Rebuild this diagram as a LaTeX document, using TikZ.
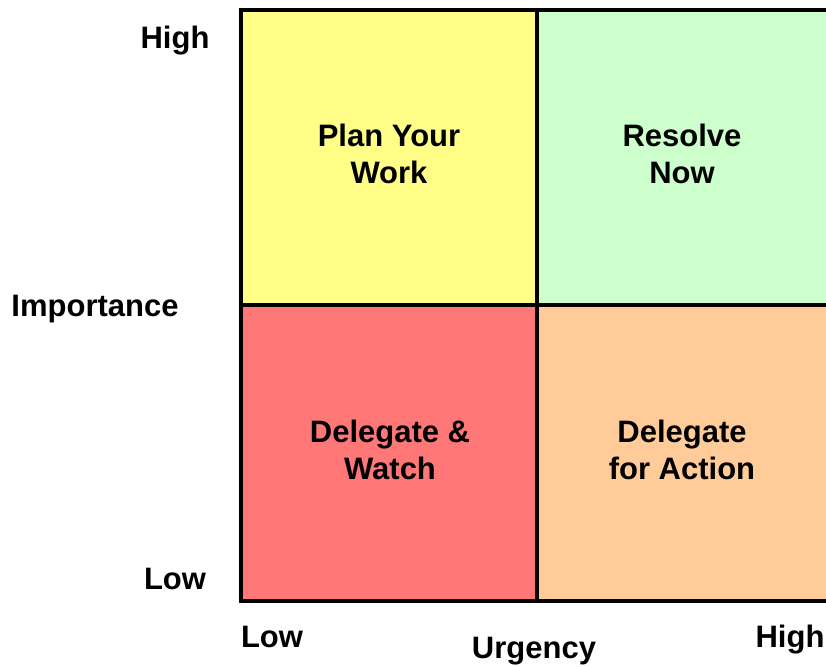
\documentclass[tikz,border=0pt]{standalone}
\usepackage{fontspec}
\setmainfont{Liberation Sans}
\usetikzlibrary{positioning}
\definecolor{planYellow}{RGB}{255,255,136}
\definecolor{resolveGreen}{RGB}{204,255,204}
\definecolor{watchRed}{RGB}{255,119,119}
\definecolor{actionOrange}{RGB}{255,204,153}

\begin{document}
\begin{tikzpicture}[x=1pt,y=-1pt,every node/.style={font=\bfseries\fontsize{31}{37}\selectfont}]

      \useasboundingbox (0,0) rectangle (826,666);

      % fill the quadrants
      \foreach \xa/\ya/\xb/\yb/\col in {241/10/537/305/planYellow,
        537/10/826/305/resolveGreen,
        241/305/537/601/watchRed,
        537/305/826/601/actionOrange}
      \fill[\col] (\xa,\ya) rectangle (\xb,\yb);

      % label the quadrants
      \foreach \name/\xc/\yc/\txt in {planWork/389/154/{Plan Your\\Work},
        resolveNow/682/154/{Resolve\\Now},
        delegateWatch/390/450/{Delegate \&\\Watch},
        delegateAction/682/450/{Delegate\\for Action}}
      \node[align=center] (\name) at (\xc,\yc) {\txt};

      % draw the grid
      \draw [line width=4.5pt] (826,10) -| (241,601) -- (826,601);
      \draw [line width=4.5pt] (537,10) -- (537,601);
      \draw [line width=4.5pt] (241,305) -- (826,305);

      % label the axes
      \node[anchor=base] (impHigh) at (175,49) {High};
      \node[anchor=base] (importance) at (95,316) {Importance};
      \node[anchor=base] (impLow) at (175,589) {Low};
      \node[anchor=base] (urgLow) at (272,647) {Low};
      \node[anchor=base] (urgency) at (534,658) {Urgency};
      \node[anchor=base] (urgHigh) at (790,647) {High};

    \end{tikzpicture}
\end{document}
